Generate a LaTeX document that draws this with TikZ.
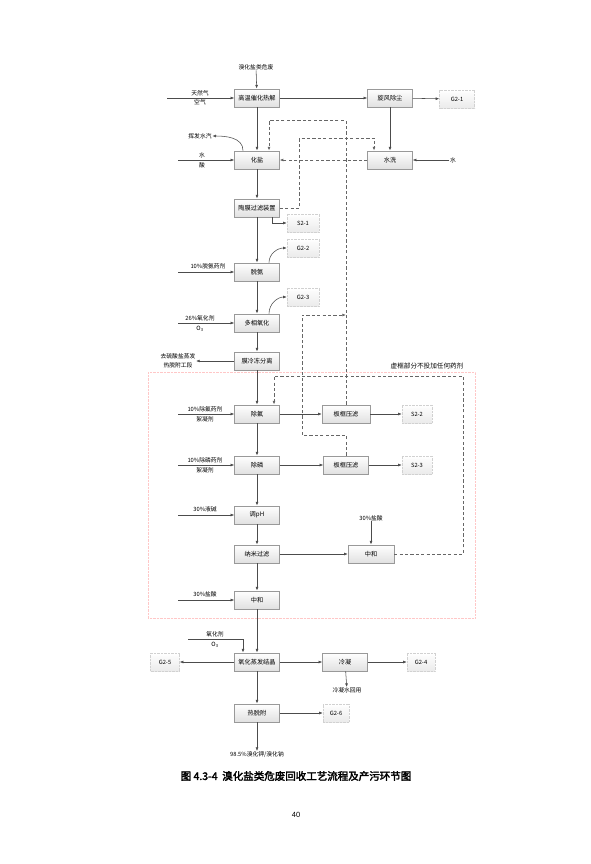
\documentclass[tikz,border=0pt]{standalone}
\usepackage{fontspec}
\setmainfont{Liberation Sans}
\newfontfamily\cjk{Noto Sans CJK SC}[AutoFakeBold=2.5]
\usetikzlibrary{arrows.meta,shadows}

\begin{document}
\begin{tikzpicture}[x=1pt,y=-1pt,
  box/.style={draw=black!40,line width=0.4pt,top color=white,bottom color=black!12,
    minimum width=45pt,minimum height=18.5pt,inner sep=1pt,font=\cjk\fontsize{6.2}{7}\selectfont,
    drop shadow={opacity=0.25,shadow xshift=0.8pt,shadow yshift=-0.8pt}},
  gbox/.style={draw=black!18,densely dotted,line width=0.4pt,top color=white,bottom color=black!8,
    minimum width=32pt,minimum height=18.5pt,inner sep=1pt,font=\cjk\fontsize{5.8}{7}\selectfont},
  lbl/.style={font=\cjk\fontsize{5.8}{9.5}\selectfont,inner sep=0.5pt,align=center},
  flow/.style={draw=black!70,line width=0.55pt,-{Latex[length=3.6pt,width=2.8pt]}},
  back/.style={draw=black!60,line width=0.65pt,dash pattern=on 3.2pt off 2.2pt,-{Latex[length=3.6pt,width=2.8pt]}}]
\fill[white] (0,0) rectangle (591,864);
\useasboundingbox (0,0) rectangle (591,864);

\node[lbl] (feed) at (256,67) {溴化盐类危废};
\node[box] (pyro) at (257,98) {高温催化热解};
\node[box] (cyc) at (390,98) {旋风除尘};
\node[gbox,minimum width=35pt] (g1) at (457,99) {G2-1};
\node[lbl] (gas) at (200,98) {天然气\\空气};
\coordinate (gasin) at (167,98);

\node[box] (salt) at (257,160) {化盐};
\node[box] (wash) at (390,160) {水洗};
\node[lbl] (water) at (453,160) {水};
\node[lbl] (vap) at (200,136) {挥发水汽};
\node[lbl] (acid) at (202,160.5) {水\\酸};
\coordinate (acidin) at (178,160);

\node[box] (filt) at (257,208) {陶膜过滤装置};
\node[gbox] (s1) at (303,223) {S2-1};
\node[gbox] (g2) at (303,248) {G2-2};
\node[box] (deam) at (257,272) {脱氨};
\node[lbl,anchor=south] (nh) at (208,270) {10\%脱氨药剂};
\coordinate (nhin) at (178,272);

\node[gbox] (g3) at (303,297) {G2-3};
\node[box] (oxi) at (257,323) {多相氧化};
\node[lbl] (ox) at (200,323.5) {26\%氧化剂\\O\textsubscript{3}};
\coordinate (oxin) at (178,323);
\node[box] (sep) at (257,361) {膜冷冻分离};
\node[lbl] (out) at (178,361) {去硫酸盐蒸发\\热脱附工段};

\draw[draw=red!22,densely dotted,line width=0.4pt] (148,372) rectangle (475,618);
\node[font=\cjk\fontsize{6.6}{8}\selectfont] (note) at (427,366) {虚框部分不投加任何药剂};

\node[box] (def) at (257,414) {除氟};
\node[box,minimum width=48pt] (pf1) at (346,414) {板框压滤};
\node[gbox,minimum width=30pt] (s2) at (417,414) {S2-2};
\node[lbl] (fl) at (205,414.5) {10\%除氟药剂\\絮凝剂};
\coordinate (flin) at (178,414);
\node[box] (dep) at (257,465) {除磷};
\node[box] (pf2) at (346,465) {板框压滤};
\node[gbox,minimum width=30pt] (s3) at (417,465) {S2-3};
\node[lbl] (ph1) at (205,465.5) {10\%除磷药剂\\絮凝剂};
\coordinate (phin) at (178,465);

\node[box] (ph) at (257,515) {调pH};
\node[lbl,anchor=south] (lye) at (205,513) {30\%液碱};
\coordinate (lyein) at (178,515);
\node[box] (nf) at (257,554) {纳米过滤};
\node[box,minimum width=46pt] (neu2) at (371,554) {中和};
\node[lbl] (hcl2) at (371,518) {30\%盐酸};
\node[box] (neu1) at (257,600) {中和};
\node[lbl,anchor=south] (hcl1) at (205,598) {30\%盐酸};
\coordinate (hclin) at (178,600);

\node[box] (evap) at (257,662) {氧化蒸发结晶};
\node[lbl] (ox2) at (215,639.5) {氧化剂\\O\textsubscript{3}};
\coordinate (ox2in) at (188,639);
\node[gbox,minimum width=29pt] (g5) at (165,662) {G2-5};
\node[box] (cond) at (345,662) {冷凝};
\node[gbox,minimum width=28pt] (g4) at (421,662) {G2-4};
\node[lbl,anchor=north] (reuse) at (347,687) {冷凝水回用};
\node[box] (td) at (257,713) {热脱附};
\node[gbox,minimum width=26pt] (g6) at (336,713) {G2-6};
\node[lbl,anchor=north] (prod) at (257,751) {98.5\%溴化钾/溴化钠};

\node[font=\cjk\bfseries\fontsize{10.5}{12}\selectfont] (cap) at (296,776) {图 4.3-4\ \ 溴化盐类危废回收工艺流程及产污环节图};
\node[font=\fontsize{7.5}{9}\selectfont] (page) at (296,815) {40};

\draw[flow] (feed) -- (pyro);
\draw[flow] (gasin) -- (pyro);
\draw[flow] (pyro) -- (cyc);
\draw[flow] (cyc) -- (g1);
\draw[flow] (cyc) -- (wash);
\draw[flow] (pyro) -- (salt);
\draw[flow] (water) -- (wash);
\draw[flow] ([xshift=-14pt]salt.north) to[out=90,in=0] (vap.east);
\draw[flow] (acidin) -- (salt);
\draw[flow] (salt) -- (filt);
\draw[flow] ([xshift=15pt]filt.south) |- (s1.west);
\draw[flow] (filt) -- (deam);
\draw[flow] ([xshift=12pt]deam.north) to[out=90,in=180] (g2.west);
\draw[flow] (nhin) -- (deam);
\draw[flow] (deam) -- (oxi);
\draw[flow] ([xshift=12pt]oxi.north) to[out=90,in=180] (g3.west);
\draw[flow] (oxin) -- (oxi);
\draw[flow] (oxi) -- (sep);
\draw[flow] (sep) -- (out.east);
\draw[flow] (sep) -- (def);
\draw[flow] (flin) -- (def);
\draw[flow] (def) -- (pf1);
\draw[flow] (pf1) -- (s2);
\draw[flow] (def) -- (dep);
\draw[flow] (phin) -- (dep);
\draw[flow] (dep) -- (pf2);
\draw[flow] (pf2) -- (s3);
\draw[flow] (dep) -- (ph);
\draw[flow] (lyein) -- (ph);
\draw[flow] (ph) -- (nf);
\draw[flow] (nf) -- (neu2);
\draw[flow] (hcl2) -- (neu2);
\draw[flow] (nf) -- (neu1);
\draw[flow] (hclin) -- (neu1);
\draw[flow] (neu1) -- (evap);
\draw[flow] (ox2in) -| ([xshift=-14pt]evap.north);
\draw[flow] (evap) -- (g5);
\draw[flow] (evap) -- (cond);
\draw[flow] (cond) -- (g4);
\draw[flow] (cond) -- (reuse);
\draw[flow] (evap) -- (td);
\draw[flow] (td) -- (g6);
\draw[flow] (td) -- (prod);

\draw[back] (wash) -- (salt);
\draw[back] (pf1.north) -- ++(0,-284) -| ([xshift=12pt]salt.north);
\draw[back] (pf2.north) |- (302,435) |- (346,315);
\draw[back] (filt.east) -- ++(20,0) -- ++(0,-70) -| ([xshift=-16pt]wash.north);
\draw[back] (neu2.east) -- ++(69,0) -- ++(0,-178) -| ([xshift=17pt]def.north);
\end{tikzpicture}
\end{document}
